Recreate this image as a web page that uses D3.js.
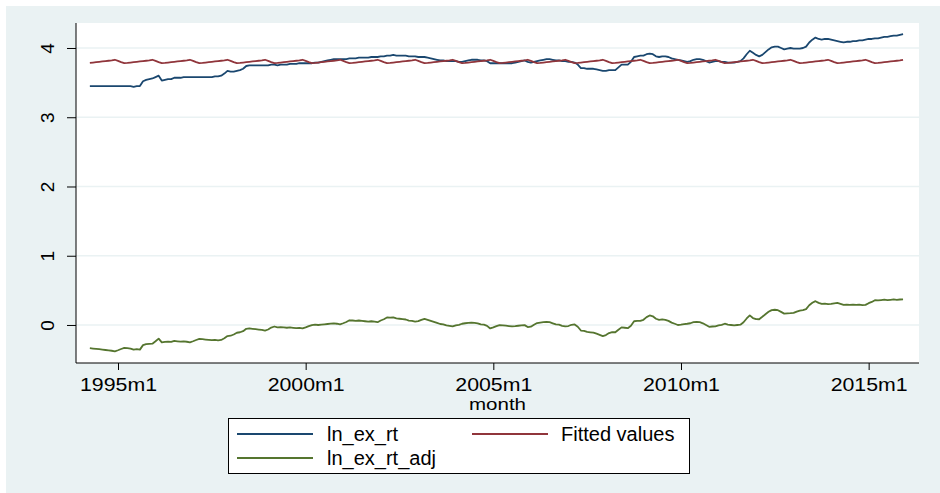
<!DOCTYPE html>
<html>
<head>
<meta charset="utf-8">
<script src="https://cdn.jsdelivr.net/npm/d3@7"></script>
<style>
  body { margin: 0; background: #fff; }
  text { font-family: 'Liberation Sans', Arial, sans-serif; }
</style>
</head>
<body>
<div id="chart"></div>
<script>
// Stata %tm months: 1960m1 = 0, first observation 1994m4
const startMonth = (1994 - 1960) * 12 + 3;

const xTicks = [420, 480, 540, 600, 660];
const xTickLabels = ['1995m1', '2000m1', '2005m1', '2010m1', '2015m1'];
const yTicks = [0, 1, 2, 3, 4];

const seriesNames = ['ln_ex_rt', 'Fitted values', 'ln_ex_rt_adj'];

// ln_ex_rt, monthly from 1994m4 to 2015m12
const lnExRt = [
  3.45, 3.45, 3.45, 3.45, 3.45, 3.45, 3.45, 3.45, 3.45,
  3.45, 3.45, 3.45, 3.45, 3.45, 3.44, 3.45, 3.45, 3.52, 3.54, 3.55, 3.56,
  3.58, 3.60, 3.53, 3.54, 3.55, 3.55, 3.57, 3.57, 3.57, 3.58, 3.58, 3.58,
  3.58, 3.58, 3.58, 3.58, 3.58, 3.58, 3.58, 3.59, 3.59, 3.60, 3.63, 3.67,
  3.66, 3.66, 3.67, 3.68, 3.70, 3.74, 3.75, 3.75, 3.75, 3.75, 3.75, 3.75,
  3.75, 3.76, 3.76, 3.75, 3.76, 3.76, 3.76, 3.77, 3.77, 3.77, 3.78, 3.78,
  3.78, 3.78, 3.78, 3.79, 3.79, 3.80, 3.81, 3.82, 3.83, 3.84, 3.84, 3.84,
  3.84, 3.84, 3.85, 3.85, 3.85, 3.86, 3.86, 3.86, 3.86, 3.87, 3.87, 3.87,
  3.88, 3.88, 3.89, 3.89, 3.90, 3.89, 3.89, 3.89, 3.89, 3.88, 3.88, 3.88,
  3.87, 3.87, 3.87, 3.86, 3.85, 3.84, 3.83, 3.82, 3.82, 3.81, 3.81, 3.81,
  3.81, 3.80, 3.80, 3.81, 3.82, 3.83, 3.83, 3.83, 3.82, 3.82, 3.81, 3.78,
  3.78, 3.78, 3.78, 3.78, 3.78, 3.78, 3.78, 3.79, 3.80, 3.81, 3.82, 3.80,
  3.79, 3.80, 3.81, 3.82, 3.83, 3.84, 3.84, 3.83, 3.82, 3.82, 3.81, 3.81,
  3.80, 3.80, 3.79, 3.76, 3.71, 3.71, 3.70, 3.70, 3.70, 3.69, 3.68, 3.67,
  3.67, 3.68, 3.68, 3.68, 3.72, 3.76, 3.76, 3.76, 3.80, 3.87, 3.88, 3.89,
  3.89, 3.91, 3.92, 3.91, 3.88, 3.87, 3.88, 3.88, 3.87, 3.85, 3.84, 3.83,
  3.82, 3.81, 3.80, 3.81, 3.83, 3.84, 3.84, 3.83, 3.81, 3.79, 3.80, 3.81,
  3.81, 3.80, 3.80, 3.79, 3.79, 3.79, 3.80, 3.81, 3.85, 3.91, 3.96, 3.93,
  3.90, 3.88, 3.90, 3.94, 3.98, 4.01, 4.02, 4.02, 4.00, 3.98, 3.99, 4.00,
  3.99, 3.99, 3.99, 4.00, 4.02, 4.08, 4.12, 4.15, 4.13, 4.12, 4.13, 4.13,
  4.12, 4.11, 4.10, 4.09, 4.08, 4.09, 4.09, 4.10, 4.10, 4.11, 4.11, 4.12,
  4.13, 4.13, 4.14, 4.14, 4.15, 4.16, 4.16, 4.17, 4.18, 4.18, 4.19, 4.20
];

// Fitted values (monthly seasonal fit), 1994m4 to 2015m12
const fitted = [
  3.785, 3.790, 3.795, 3.800, 3.806, 3.811, 3.816, 3.822, 3.830,
  3.815, 3.797, 3.782, 3.785, 3.790, 3.795, 3.800, 3.806, 3.811, 3.816, 3.822, 3.830,
  3.815, 3.797, 3.782, 3.785, 3.790, 3.795, 3.800, 3.806, 3.811, 3.816, 3.822, 3.830,
  3.815, 3.797, 3.782, 3.785, 3.790, 3.795, 3.800, 3.806, 3.811, 3.816, 3.822, 3.830,
  3.815, 3.797, 3.782, 3.785, 3.790, 3.795, 3.800, 3.806, 3.811, 3.816, 3.822, 3.830,
  3.815, 3.797, 3.782, 3.785, 3.790, 3.795, 3.800, 3.806, 3.811, 3.816, 3.822, 3.830,
  3.815, 3.797, 3.782, 3.785, 3.790, 3.795, 3.800, 3.806, 3.811, 3.816, 3.822, 3.830,
  3.815, 3.797, 3.782, 3.785, 3.790, 3.795, 3.800, 3.806, 3.811, 3.816, 3.822, 3.830,
  3.815, 3.797, 3.782, 3.785, 3.790, 3.795, 3.800, 3.806, 3.811, 3.816, 3.822, 3.830,
  3.815, 3.797, 3.782, 3.785, 3.790, 3.795, 3.800, 3.806, 3.811, 3.816, 3.822, 3.830,
  3.815, 3.797, 3.782, 3.785, 3.790, 3.795, 3.800, 3.806, 3.811, 3.816, 3.822, 3.830,
  3.815, 3.797, 3.782, 3.785, 3.790, 3.795, 3.800, 3.806, 3.811, 3.816, 3.822, 3.830,
  3.815, 3.797, 3.782, 3.785, 3.790, 3.795, 3.800, 3.806, 3.811, 3.816, 3.822, 3.830,
  3.815, 3.797, 3.782, 3.785, 3.790, 3.795, 3.800, 3.806, 3.811, 3.816, 3.822, 3.830,
  3.815, 3.797, 3.782, 3.785, 3.790, 3.795, 3.800, 3.806, 3.811, 3.816, 3.822, 3.830,
  3.815, 3.797, 3.782, 3.785, 3.790, 3.795, 3.800, 3.806, 3.811, 3.816, 3.822, 3.830,
  3.815, 3.797, 3.782, 3.785, 3.790, 3.795, 3.800, 3.806, 3.811, 3.816, 3.822, 3.830,
  3.815, 3.797, 3.782, 3.785, 3.790, 3.795, 3.800, 3.806, 3.811, 3.816, 3.822, 3.830,
  3.815, 3.797, 3.782, 3.785, 3.790, 3.795, 3.800, 3.806, 3.811, 3.816, 3.822, 3.830,
  3.815, 3.797, 3.782, 3.785, 3.790, 3.795, 3.800, 3.806, 3.811, 3.816, 3.822, 3.830,
  3.815, 3.797, 3.782, 3.785, 3.790, 3.795, 3.800, 3.806, 3.811, 3.816, 3.822, 3.830,
  3.815, 3.797, 3.782, 3.785, 3.790, 3.795, 3.800, 3.806, 3.811, 3.816, 3.822, 3.830
];

// ln_ex_rt_adj, 1994m4 to 2015m12
const lnExRtAdj = [
  -0.335, -0.340, -0.345, -0.350, -0.356, -0.361, -0.366, -0.372, -0.380,
  -0.365, -0.347, -0.332, -0.335, -0.340, -0.355, -0.350, -0.356, -0.291, -0.276, -0.272, -0.270,
  -0.235, -0.197, -0.252, -0.245, -0.240, -0.245, -0.230, -0.236, -0.241, -0.236, -0.242, -0.250,
  -0.235, -0.217, -0.202, -0.205, -0.210, -0.215, -0.220, -0.216, -0.221, -0.216, -0.192, -0.160,
  -0.155, -0.137, -0.112, -0.105, -0.090, -0.055, -0.050, -0.056, -0.061, -0.066, -0.072, -0.080,
  -0.065, -0.037, -0.022, -0.035, -0.030, -0.035, -0.040, -0.036, -0.041, -0.046, -0.042, -0.050,
  -0.035, -0.017, -0.002, 0.005, 0.000, 0.005, 0.010, 0.014, 0.019, 0.024, 0.018, 0.010,
  0.025, 0.043, 0.068, 0.065, 0.060, 0.065, 0.060, 0.054, 0.049, 0.054, 0.048, 0.040,
  0.065, 0.083, 0.108, 0.105, 0.110, 0.095, 0.090, 0.084, 0.079, 0.064, 0.058, 0.050,
  0.055, 0.073, 0.088, 0.075, 0.060, 0.045, 0.030, 0.014, 0.009, -0.006, -0.012, -0.020,
  -0.005, 0.003, 0.018, 0.025, 0.030, 0.035, 0.030, 0.024, 0.009, 0.004, -0.012, -0.050,
  -0.035, -0.017, -0.002, -0.005, -0.010, -0.015, -0.020, -0.016, -0.011, -0.006, -0.002, -0.030,
  -0.025, 0.003, 0.028, 0.035, 0.040, 0.045, 0.040, 0.024, 0.009, 0.004, -0.012, -0.020,
  -0.015, 0.003, 0.008, -0.025, -0.080, -0.085, -0.100, -0.106, -0.111, -0.126, -0.142, -0.160,
  -0.145, -0.117, -0.102, -0.105, -0.070, -0.035, -0.040, -0.046, -0.011, 0.054, 0.058, 0.060,
  0.075, 0.113, 0.138, 0.125, 0.090, 0.075, 0.080, 0.074, 0.059, 0.034, 0.018, 0.000,
  0.005, 0.013, 0.018, 0.025, 0.040, 0.045, 0.040, 0.024, -0.001, -0.026, -0.022, -0.020,
  -0.005, 0.003, 0.018, 0.005, 0.000, -0.005, 0.000, 0.004, 0.039, 0.094, 0.138, 0.100,
  0.085, 0.083, 0.118, 0.155, 0.190, 0.215, 0.220, 0.214, 0.189, 0.164, 0.168, 0.170,
  0.175, 0.193, 0.208, 0.215, 0.230, 0.285, 0.320, 0.344, 0.319, 0.304, 0.308, 0.300,
  0.305, 0.313, 0.318, 0.305, 0.290, 0.295, 0.290, 0.294, 0.289, 0.294, 0.288, 0.290,
  0.315, 0.333, 0.358, 0.355, 0.360, 0.365, 0.360, 0.364, 0.369, 0.364, 0.368, 0.370
];

const colors = ['#1a476f', '#90353b', '#55752f'];
const bgColor = '#eaf2f3';

const width = 940, height = 493;
const plot = { left: 76, right: 919, top: 23, bottom: 363 };

const svg = d3.select('#chart')
  .append('svg')
    .attr('width', width)
    .attr('height', height);

// graph region and plot region
svg.append('rect')
  .attr('x', 6).attr('y', 6)
  .attr('width', width - 6).attr('height', height - 6)
  .attr('fill', bgColor);
svg.append('rect')
  .attr('x', plot.left).attr('y', plot.top)
  .attr('width', plot.right - plot.left).attr('height', plot.bottom - plot.top)
  .attr('fill', '#fff');

const x = d3.scaleLinear()
  .domain([406.57, 676.1])
  .range([plot.left, plot.right]);

const y = d3.scaleLinear()
  .domain([-0.549, 4.361])
  .range([plot.bottom, plot.top]);

// grid lines
svg.append('g')
  .selectAll('line')
  .data(yTicks)
  .enter()
  .append('line')
    .attr('x1', plot.left).attr('x2', plot.right)
    .attr('y1', d => y(d)).attr('y2', d => y(d))
    .attr('stroke', bgColor)
    .attr('stroke-width', 1.5);

// y axis
const yAxis = svg.append('g')
  .attr('transform', 'translate(' + plot.left + ',0)')
  .call(d3.axisLeft(y).tickValues(yTicks).tickSize(9).tickPadding(8).tickFormat(d3.format('d')));
yAxis.select('.domain').attr('d', 'M0,' + plot.top + 'V' + plot.bottom).attr('stroke', '#000');
yAxis.selectAll('.tick line').attr('stroke', '#000');
yAxis.selectAll('.tick text')
  .attr('x', null).attr('dy', null)
  .attr('transform', 'translate(-22,0) rotate(-90)')
  .attr('text-anchor', 'middle')
  .attr('fill', '#000')
  .style('font-size', '19px')
  .style('font-family', 'Liberation Sans, Arial, sans-serif');

// x axis (Stata stretches the text horizontally)
const xAxis = svg.append('g')
  .attr('transform', 'translate(0,' + plot.bottom + ')')
  .call(d3.axisBottom(x).tickValues(xTicks).tickSize(7)
    .tickFormat((d, i) => xTickLabels[i]));
xAxis.select('.domain').attr('d', 'M' + plot.left + ',0H' + plot.right).attr('stroke', '#000');
xAxis.selectAll('.tick line').attr('stroke', '#000');
xAxis.selectAll('.tick text')
  .attr('y', 28).attr('dy', null)
  .attr('fill', '#000')
  .attr('textLength', 77)
  .attr('lengthAdjust', 'spacingAndGlyphs')
  .style('font-size', '19px')
  .style('font-family', 'Liberation Sans, Arial, sans-serif');

svg.append('text')
  .attr('x', (plot.left + plot.right) / 2)
  .attr('y', 410)
  .attr('text-anchor', 'middle')
  .attr('textLength', 57)
  .attr('lengthAdjust', 'spacingAndGlyphs')
  .style('font-size', '16px')
  .text('month');

// series lines
const allSeries = [lnExRt, fitted, lnExRtAdj];
const line = d3.line()
  .x((d, i) => x(startMonth + i))
  .y(d => y(d));

svg.append('g')
  .selectAll('path')
  .data(allSeries)
  .enter()
  .append('path')
    .attr('d', d => line(d))
    .attr('fill', 'none')
    .attr('stroke', (d, i) => colors[i])
    .attr('stroke-width', 1.8)
    .attr('stroke-linejoin', 'round');

// legend
const legend = svg.append('g');
legend.append('rect')
  .attr('x', 228.5).attr('y', 418.5)
  .attr('width', 461).attr('height', 55)
  .attr('fill', '#fff')
  .attr('stroke', '#000')
  .attr('stroke-width', 1);

const legendPos = [
  { lx: 237, tx: 327, y: 434 },
  { lx: 472, tx: 561, y: 434 },
  { lx: 237, tx: 327, y: 458 }
];

legend.selectAll('line.key')
  .data(seriesNames)
  .enter()
  .append('line')
    .attr('class', 'key')
    .attr('x1', (d, i) => legendPos[i].lx)
    .attr('x2', (d, i) => legendPos[i].lx + 76)
    .attr('y1', (d, i) => legendPos[i].y)
    .attr('y2', (d, i) => legendPos[i].y)
    .attr('stroke', (d, i) => colors[i])
    .attr('stroke-width', 1.8);

legend.selectAll('text.key')
  .data(seriesNames)
  .enter()
  .append('text')
    .attr('class', 'key')
    .attr('x', (d, i) => legendPos[i].tx)
    .attr('y', (d, i) => legendPos[i].y + 7)
    .style('font-size', '20px')
    .text(d => d);
</script>
</body>
</html>
